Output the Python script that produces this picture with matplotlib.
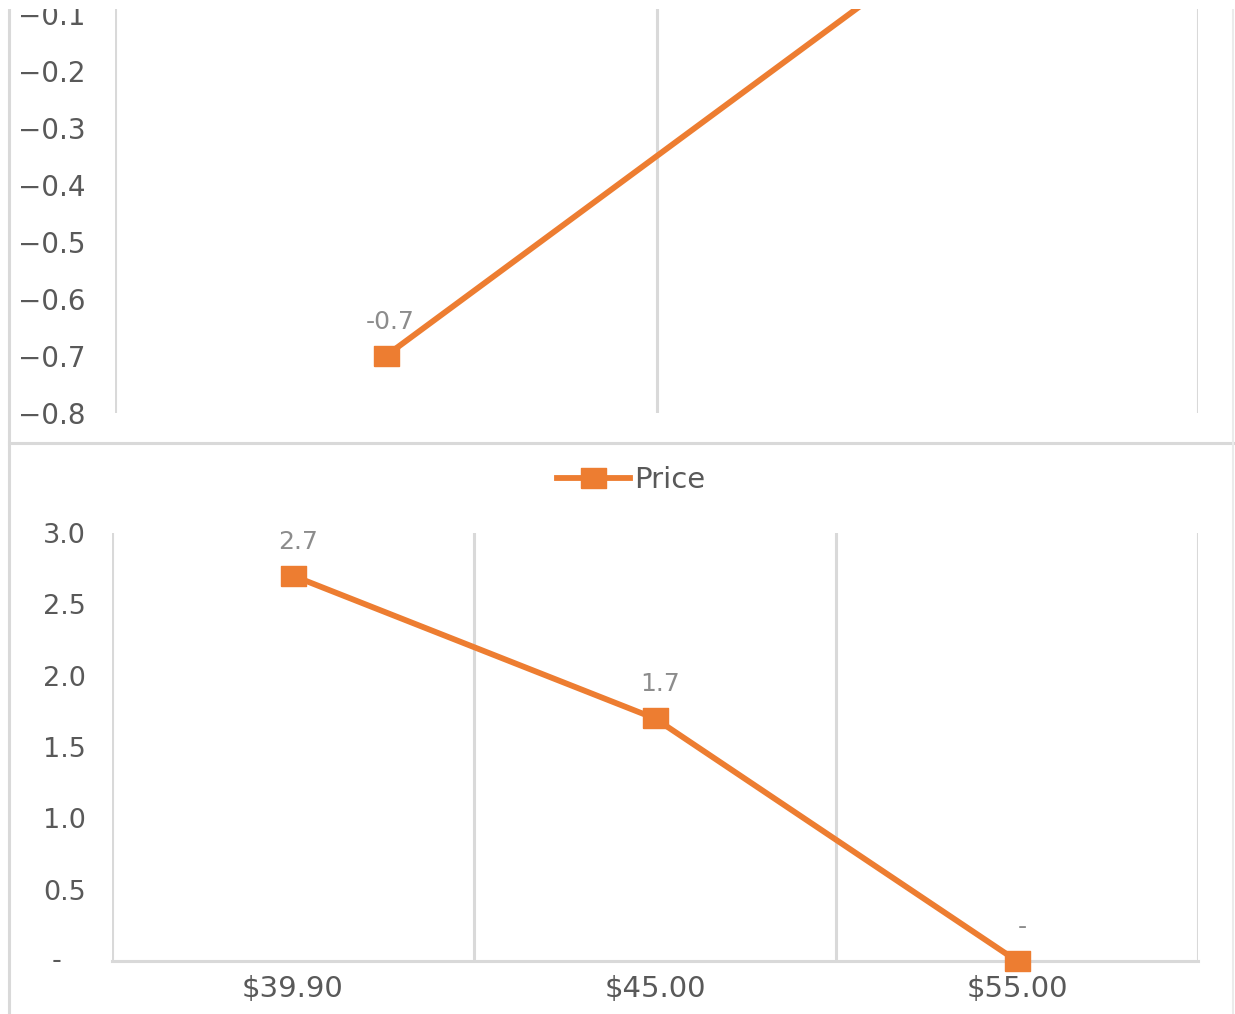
import matplotlib
matplotlib.use("Agg")
import matplotlib.pyplot as plt
from matplotlib.lines import Line2D
from matplotlib.patches import Rectangle
from matplotlib.transforms import blended_transform_factory, ScaledTranslation

# ---- data ----
top_values = [-0.7, 0.0]
top_yticks = [-0.8, -0.7, -0.6, -0.5, -0.4, -0.3, -0.2, -0.1]

categories = ["$39.90", "$45.00", "$55.00"]
price_values = [2.7, 1.7, 0.0]
bottom_yticks = [0.0, 0.5, 1.0, 1.5, 2.0, 2.5, 3.0]
series_name = "Price"

# ---- style ----
ORANGE = "#ED7D31"
GRID = "#D9D9D9"
TICK_C = "#595959"
LABEL_C = "#8C8C8C"
W, H = 1235, 1014

fig = plt.figure(figsize=(W / 100, H / 100), dpi=100)
fig.patch.set_facecolor("white")


def fx(px):
    return px / W


def fy(py):
    return 1 - py / H


# rectangular marker, wider than tall
rect_marker = [(-1.3, -1), (1.3, -1), (1.3, 1), (-1.3, 1), (-1.3, -1)]


def value_label(v):
    if abs(v) < 1e-9:
        return "-"
    return f"{v:.1f}"


# ---- upper panel ----
ax1 = fig.add_axes([fx(115), fy(413), fx(1198) - fx(115), (413 - 9) / H])
x1 = list(range(len(top_values)))
ax1.plot(x1, top_values, color=ORANGE, lw=4.2, marker=rect_marker, ms=18,
         solid_capstyle="butt", zorder=3)
ax1.set_xlim(-0.5, len(top_values) - 0.5)
ax1.set_ylim(-0.8, -0.8 + (413 - 9) / 570.5)
for b in [i - 0.5 for i in range(len(top_values) + 1)]:
    ax1.axvline(b, color=GRID, lw=2.2, zorder=1)
for s in ax1.spines.values():
    s.set_visible(False)
ax1.set_xticks([])
ax1.set_yticks(top_yticks)
ax1.set_yticklabels([f"{t:.1f}".replace("-", "\u2212") for t in top_yticks])
ax1.tick_params(axis="y", length=0, pad=21, labelsize=20, labelcolor=TICK_C)
for xi, v in zip(x1, top_values):
    ax1.annotate(value_label(v), (xi, v), xytext=(3, 24.5),
                 textcoords="offset points", ha="center", va="center",
                 fontsize=18, color=LABEL_C)

# ---- lower panel ----
ax2 = fig.add_axes([fx(112), fy(961), fx(1198) - fx(112), (961 - 533) / H])
x2 = list(range(len(categories)))
line, = ax2.plot(x2, price_values, color=ORANGE, lw=4.2, marker=rect_marker,
                 ms=18, label=series_name, zorder=3, clip_on=False)
ax2.set_xlim(-0.5, len(categories) - 0.5)
ax2.set_ylim(0, 3.0)
for b in [i - 0.5 for i in range(len(categories) + 1)]:
    ax2.axvline(b, color=GRID, lw=2.2, zorder=1)
for name, s in ax2.spines.items():
    if name == "bottom":
        s.set_color(GRID)
        s.set_linewidth(2.2)
    else:
        s.set_visible(False)
ax2.set_xticks(x2)
ax2.set_xticklabels(categories)
ax2.tick_params(axis="x", length=0, pad=10, labelsize=21, labelcolor=TICK_C)
ax2.set_yticks(bottom_yticks)
ax2.set_yticklabels([value_label(t) if t != 0 else "" for t in bottom_yticks])
ax2.tick_params(axis="y", length=0, pad=19, labelsize=19.5, labelcolor=TICK_C)
# zero shown as a dash, accounting style
trans = blended_transform_factory(ax2.transAxes, ax2.transData)
ax2.text(0, 0, "-", transform=trans + ScaledTranslation(-0.55, 0, fig.dpi_scale_trans),
         ha="center", va="center", fontsize=19.5, color=TICK_C)
for xi, v in zip(x2, price_values):
    ax2.annotate(value_label(v), (xi, v), xytext=(4, 24.5),
                 textcoords="offset points", ha="center", va="center",
                 fontsize=18, color=LABEL_C, annotation_clip=False)

fig.legend(handles=[line], loc="center", bbox_to_anchor=(fx(631), fy(480)),
           frameon=False, fontsize=21, handlelength=2.5, handletextpad=0.15,
           labelcolor=TICK_C, borderpad=0)

# ---- chart-area borders ----
fig.add_artist(Line2D([fx(9), fx(9)], [0, 1], color=GRID, lw=2.2, zorder=5))
fig.add_artist(Line2D([fx(9), fx(1233)], [fy(443), fy(443)], color=GRID, lw=2.2, zorder=5))
fig.add_artist(Line2D([fx(1233), fx(1233)], [0, 1], color="#EBEBEB", lw=1.5, zorder=5))
# blank strip across the top edge
fig.add_artist(Rectangle((0, fy(9)), 1, 9 / H, transform=fig.transFigure,
                         facecolor="white", edgecolor="none", zorder=20))

fig.savefig("out.png", dpi=100, facecolor="white")
